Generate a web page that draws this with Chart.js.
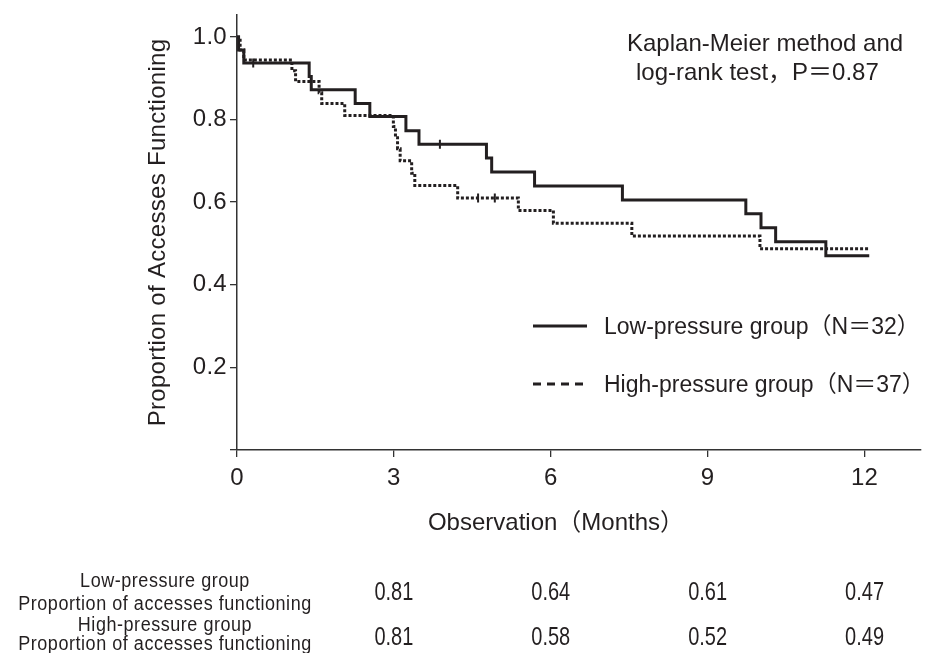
<!DOCTYPE html>
<html>
<head>
<meta charset="utf-8">
<script src="https://cdn.jsdelivr.net/npm/chart.js@4.4.0/dist/chart.umd.min.js"></script>
<style>
  html, body { margin: 0; padding: 0; background: #fff; }
  #wrap { position: relative; width: 927px; height: 653px; overflow: hidden; }
  .t {
    position: absolute;
    font-family: 'Liberation Sans', 'Noto Sans CJK JP', sans-serif;
    font-size: 24px;
    line-height: 24px;
    color: #231f20;
    white-space: nowrap;
  }
  .leg { font-size: 23px; }
</style>
</head>
<body>
<div id="wrap">
  <canvas id="kmChart" width="927" height="653"></canvas>
  <div class="t" id="note1" style="left:627px; top:31px;"></div>
  <div class="t" id="note2" style="left:636px; top:60px;"></div>
  <div class="t leg" id="leg1" style="left:604px; top:314px;"></div>
  <div class="t leg" id="leg2" style="left:604px; top:372px;"></div>
  <div class="t" id="xTitle" style="left:356px; top:510px; width:400px; text-align:center;"></div>
</div>
<script>
// Low-pressure group (N=32): event times (months) and survival after each step
var lowTimes = [0, 0.03, 0.13, 1.38, 1.42, 2.26, 2.54, 3.23, 3.48, 4.77, 4.87, 5.69, 7.37, 9.73, 10.02, 10.30, 11.26, 12.09];
var lowSurv  = [1.0, 0.968, 0.937, 0.904, 0.872, 0.839, 0.807, 0.773, 0.740, 0.707, 0.673, 0.639, 0.605, 0.572, 0.538, 0.504, 0.470, 0.470];
var lowCensorTimes = [0.31, 3.88];
var lowCensorSurv  = [0.937, 0.740];

// High-pressure group (N=37)
var highTimes = [0, 0.06, 0.13, 1.05, 1.12, 1.57, 1.62, 2.06, 2.99, 3.03, 3.07, 3.12, 3.34, 3.40, 4.22, 5.38, 6.05, 7.55, 10.00, 12.08];
var highSurv  = [1.0, 0.968, 0.944, 0.918, 0.892, 0.865, 0.839, 0.810, 0.783, 0.756, 0.729, 0.700, 0.670, 0.640, 0.610, 0.580, 0.549, 0.518, 0.487, 0.487];
var highCensorTimes = [4.61, 4.93];
var highCensorSurv  = [0.610, 0.610];

// axis ticks
var xTicks = [0, 3, 6, 9, 12];
var yTicks = [0, 0.2, 0.4, 0.6, 0.8, 1.0];

// table under the chart
var tableTimes = [3, 6, 9, 12];
var lowTable  = ['0.81', '0.64', '0.61', '0.47'];
var highTable = ['0.81', '0.58', '0.52', '0.49'];

var seriesNames = ['Low-pressure group（N＝32）', 'High-pressure group（N＝37）'];
var noteLines = ['Kaplan-Meier method and', 'log-rank test，P＝0.87'];
var xTitle = 'Observation（Months）';
var yTitle = 'Proportion of Accesses Functioning';
var tableLabels = [
  ['Low-pressure group', 'Proportion of accesses functioning'],
  ['High-pressure group', 'Proportion of accesses functioning']
];

var ink = '#231f20';
var fam = "'Liberation Sans', 'Noto Sans CJK JP', Arial, sans-serif";

document.getElementById('note1').textContent = noteLines[0];
document.getElementById('note2').textContent = noteLines[1];
document.getElementById('leg1').textContent = seriesNames[0];
document.getElementById('leg2').textContent = seriesNames[1];
document.getElementById('xTitle').textContent = xTitle;

function pts(xs, ys) {
  return xs.map(function(t, i) { return {x: t, y: ys[i]}; });
}

// narrow text, squeezed horizontally like the reference's condensed face
function narrowText(ctx, text, x, y, sx) {
  ctx.save();
  ctx.translate(x, y);
  ctx.scale(sx, 1);
  ctx.fillText(text, 0, 0);
  ctx.restore();
}

// legend samples and the table below the axis
var extras = {
  id: 'extras',
  beforeLayout: function(chart) { chart.ctx.letterSpacing = '0.3px'; },
  beforeDraw: function(chart) { chart.ctx.letterSpacing = '0.3px'; },
  afterDraw: function(chart) {
    var ctx = chart.ctx;
    var xs = chart.scales.x;
    ctx.save();
    ctx.fillStyle = ink;
    ctx.strokeStyle = ink;

    // legend line samples
    ctx.lineWidth = 3;
    ctx.setLineDash([]);
    ctx.beginPath(); ctx.moveTo(533, 326); ctx.lineTo(587, 326); ctx.stroke();
    ctx.setLineDash([8, 6]);
    ctx.beginPath(); ctx.moveTo(533, 384); ctx.lineTo(587, 384); ctx.stroke();
    ctx.setLineDash([]);

    // table
    ctx.textBaseline = 'middle';
    ctx.textAlign = 'center';
    ctx.font = '20px ' + fam;
    ctx.letterSpacing = '0.6px';
    narrowText(ctx, tableLabels[0][0], 165, 581, 0.9);
    narrowText(ctx, tableLabels[0][1], 165, 604, 0.9);
    narrowText(ctx, tableLabels[1][0], 165, 625, 0.9);
    narrowText(ctx, tableLabels[1][1], 165, 644, 0.9);
    ctx.font = '25px ' + fam;
    ctx.letterSpacing = '0px';
    tableTimes.forEach(function(t, i) {
      var px = xs.getPixelForValue(t);
      narrowText(ctx, lowTable[i], px, 593, 0.8);
      narrowText(ctx, highTable[i], px, 638, 0.8);
    });
    ctx.restore();
  }
};

var ctx1 = document.getElementById('kmChart').getContext('2d');
var kmChart = new Chart(ctx1, {
  type: 'line',
  data: {
    datasets: [
      {
        label: seriesNames[0],
        data: pts(lowTimes, lowSurv),
        borderColor: ink,
        borderWidth: 3,
        stepped: 'before',
        pointRadius: 0,
        fill: false
      },
      {
        label: seriesNames[1],
        data: pts(highTimes, highSurv),
        borderColor: ink,
        borderWidth: 3,
        borderDash: [3, 2],
        stepped: 'before',
        pointRadius: 0,
        fill: false
      },
      {
        label: 'censored low',
        data: pts(lowCensorTimes, lowCensorSurv),
        showLine: false,
        pointStyle: 'line',
        rotation: 90,
        pointRadius: 4.5,
        borderColor: ink,
        borderWidth: 2
      },
      {
        label: 'censored high',
        data: pts(highCensorTimes, highCensorSurv),
        showLine: false,
        pointStyle: 'line',
        rotation: 90,
        pointRadius: 4.5,
        borderColor: ink,
        borderWidth: 2
      }
    ]
  },
  options: {
    responsive: false,
    animation: false,
    devicePixelRatio: 1,
    layout: { padding: { top: 15, right: 0, left: 0, bottom: 113 } },
    plugins: {
      legend: { display: false },
      tooltip: { enabled: false }
    },
    scales: {
      x: {
        type: 'linear',
        min: 0,
        max: 13.07,
        afterBuildTicks: function(s) { s.ticks = xTicks.map(function(v) { return {value: v}; }); },
        afterFit: function(s) { s.height = 90; s.paddingRight = 0; s.paddingLeft = 0; },
        grid: { drawOnChartArea: false, tickLength: 7, color: '#333', lineWidth: 1.3 },
        border: { color: '#333', width: 1.5 },
        ticks: { color: ink, font: { size: 24, family: fam }, padding: 7, maxRotation: 0 },
        title: { display: false }
      },
      y: {
        min: 0,
        max: 1.053,
        afterBuildTicks: function(s) { s.ticks = yTicks.map(function(v) { return {value: v}; }); },
        afterFit: function(s) { s.width = 237; s.paddingTop = 0; s.paddingBottom = 0; },
        grid: { drawOnChartArea: false, tickLength: 7, color: '#333', lineWidth: 1.3 },
        border: { color: '#333', width: 1.5 },
        ticks: {
          color: ink,
          font: { size: 24, family: fam },
          padding: 3,
          callback: function(v) { return v === 0 ? '' : v.toFixed(1); }
        },
        title: {
          display: true,
          text: yTitle,
          color: ink,
          font: { size: 24, family: fam },
          padding: { top: 144, bottom: 0 }
        }
      }
    }
  },
  plugins: [extras]
});
</script>
</body>
</html>
